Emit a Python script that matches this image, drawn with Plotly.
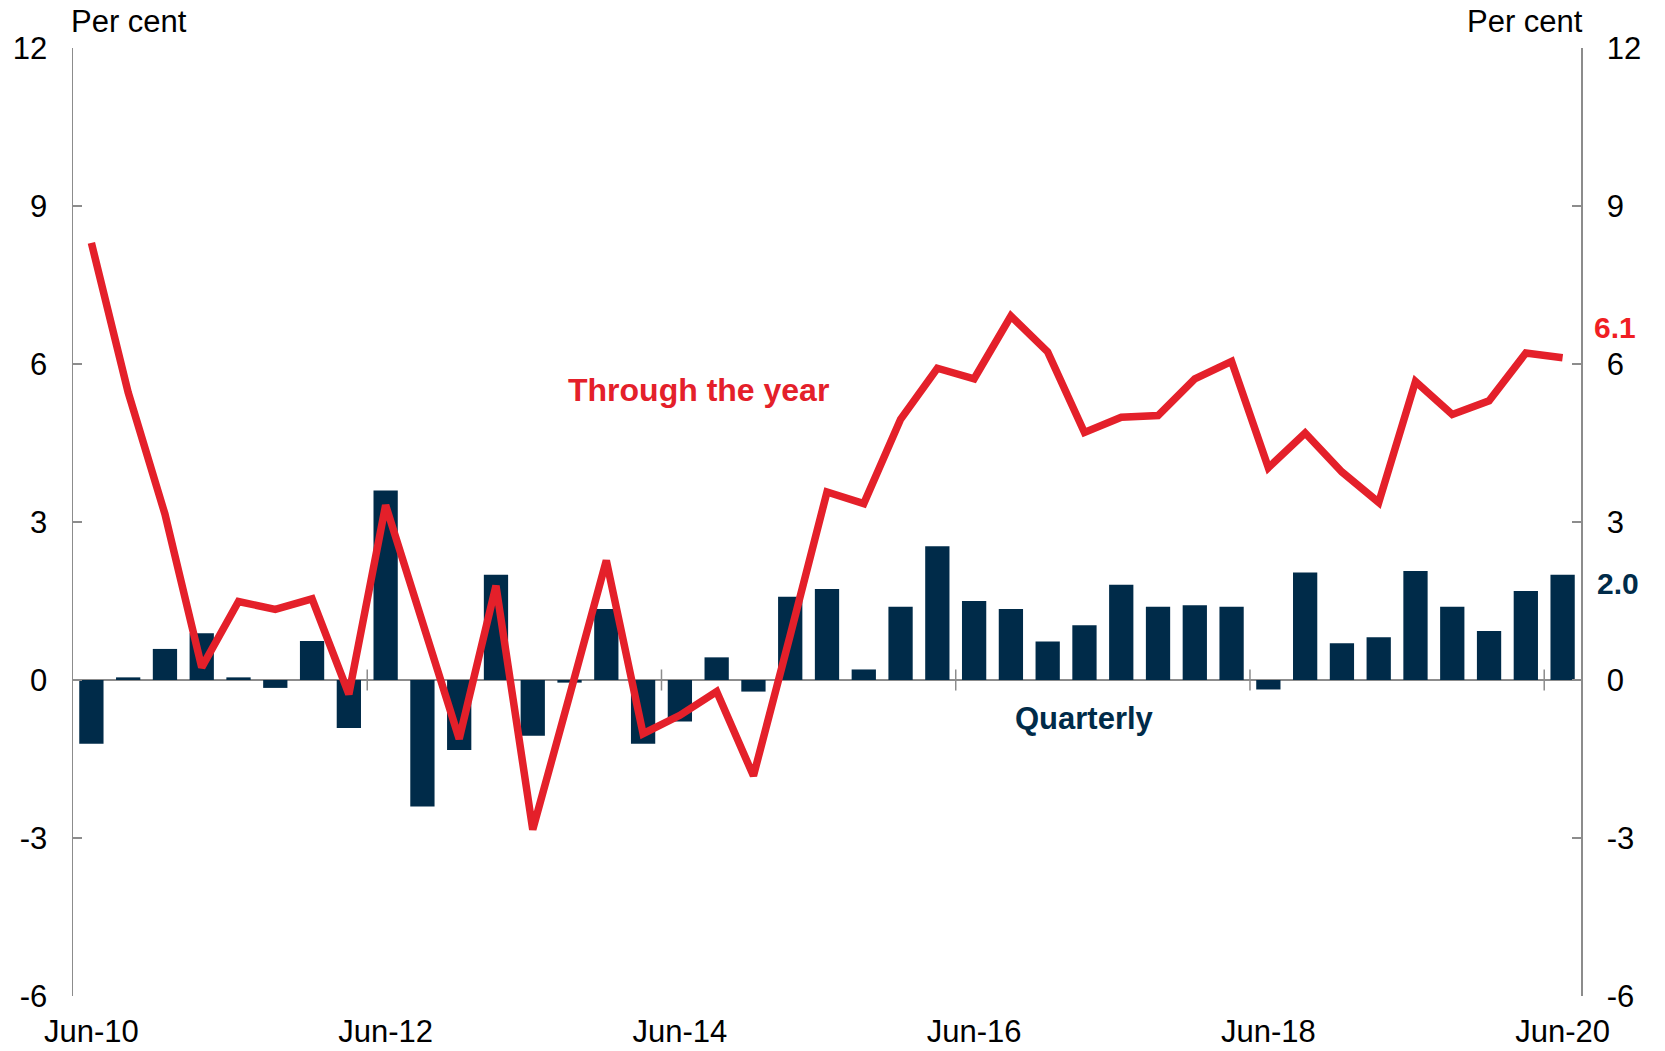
import plotly.graph_objects as go

# ---- Data -------------------------------------------------------------
months = ["Mar", "Jun", "Sep", "Dec"]
quarters = []
for yr in range(10, 21):
    for m in months:
        quarters.append(f"{m}-{yr:02d}")
quarters = quarters[quarters.index("Jun-10"): quarters.index("Jun-20") + 1]

# Quarterly growth (bars), per cent
quarterly = [-1.21, 0.05, 0.59, 0.89, 0.05, -0.15, 0.74, -0.91, 3.60, -2.40,
             -1.33, 2.00, -1.06, -0.05, 1.35, -1.21, -0.79, 0.43, -0.22, 1.58,
             1.73, 0.20, 1.39, 2.54, 1.50, 1.35, 0.73, 1.04, 1.81, 1.39,
             1.42, 1.39, -0.18, 2.04, 0.70, 0.81, 2.07, 1.39, 0.93, 1.69,
             2.00]

# Through-the-year growth (line), per cent
through_year = [8.30, 5.46, 3.15, 0.24, 1.49, 1.34, 1.54, -0.27, 3.32, 1.10,
                -1.12, 1.79, -2.84, -0.30, 2.27, -1.02, -0.67, -0.22, -1.82, 0.85,
                3.57, 3.35, 4.95, 5.92, 5.72, 6.91, 6.23, 4.70, 4.99, 5.02,
                5.72, 6.05, 4.03, 4.69, 3.95, 3.37, 5.67, 5.04, 5.30, 6.21,
                6.12]

tick_labels = ["Jun-10", "Jun-12", "Jun-14", "Jun-16", "Jun-18", "Jun-20"]
y_ticks = [-6, -3, 0, 3, 6, 9, 12]
y_tick_text = [str(v) for v in y_ticks]

# ---- Styling ----------------------------------------------------------
NAVY = "#002B49"
RED = "#E4202A"
AXIS_GREY = "#8C8C8C"
FONT = "Liberation Sans, Arial, sans-serif"

x = list(range(len(quarters)))
tick_idx = [quarters.index(t) for t in tick_labels]

fig = go.Figure()
fig.add_trace(go.Bar(x=x, y=quarterly, marker=dict(color=NAVY, line=dict(width=0)),
                     width=0.66, name="Quarterly", yaxis="y"))
fig.add_trace(go.Scatter(x=x, y=through_year, mode="lines",
                         line=dict(color=RED, width=7.5), name="Through the year",
                         yaxis="y2"))

# cross ticks on the zero line, between quarters before each labelled year
shapes = []
for i in tick_idx:
    if i > 0:
        shapes.append(dict(type="line", xref="x", yref="y", x0=i - 0.5, x1=i - 0.5,
                           y0=-0.2, y1=0.2, line=dict(color=AXIS_GREY, width=1.5)))

annotations = [
    dict(text="Per cent", xref="paper", yref="paper", x=0, y=1, xanchor="left",
         yanchor="middle", yshift=27, xshift=-4, showarrow=False,
         font=dict(size=31, color="black", family=FONT)),
    dict(text="Per cent", xref="paper", yref="paper", x=1, y=1, xanchor="right",
         yanchor="middle", yshift=27, xshift=4, showarrow=False,
         font=dict(size=31, color="black", family=FONT)),
    dict(text="<b>Through the year</b>", xref="x", yref="y", x=16.5, y=5.5,
         showarrow=False, font=dict(size=32, color=RED, family=FONT)),
    dict(text="<b>Quarterly</b>", xref="x", yref="y", x=27.0, y=-0.74,
         showarrow=False, font=dict(size=31, color=NAVY, family=FONT)),
    dict(text=f"<b>{through_year[-1]:.1f}</b>", xref="x", yref="y",
         x=x[-1], y=through_year[-1], xshift=52, yshift=30, showarrow=False,
         font=dict(size=30, color="#F01E23", family=FONT)),
    dict(text=f"<b>{quarterly[-1]:.1f}</b>", xref="x", yref="y",
         x=x[-1], y=quarterly[-1], xshift=55, yshift=-9, showarrow=False,
         font=dict(size=30, color=NAVY, family=FONT)),
]

yaxis_common = dict(range=[-6, 12], tickvals=y_ticks, ticktext=y_tick_text,
                    ticks="inside", ticklen=9,
                    tickwidth=1.5, tickcolor=AXIS_GREY, showline=True,
                    linecolor=AXIS_GREY, linewidth=1.5, showgrid=False,
                    tickfont=dict(size=31, color="black", family=FONT),
                    ticklabelstandoff=18, fixedrange=True, automargin=False)

fig.update_layout(
    width=1665, height=1051,
    margin=dict(l=73, r=84, t=48, b=55, autoexpand=False),
    paper_bgcolor="white", plot_bgcolor="white",
    showlegend=False,
    font=dict(family=FONT, color="black"),
    xaxis=dict(range=[-0.5, 40.5], tickvals=[x[i] for i in tick_idx],
               ticktext=tick_labels, ticks="", showline=False, showgrid=False,
               zeroline=False, tickfont=dict(size=31, color="black", family=FONT),
               ticklabelstandoff=14, automargin=False, fixedrange=True),
    yaxis=dict(**yaxis_common, side="left", zeroline=True,
               zerolinecolor=AXIS_GREY, zerolinewidth=2),
    yaxis2=dict(**yaxis_common, side="right", overlaying="y", zeroline=False),
    shapes=shapes,
    annotations=annotations,
    hovermode=False,
)

# remove the default page margin so the figure fills the window exactly
fig.write_html("out.html",
               config={"displayModeBar": False, "staticPlot": True},
               post_script="document.body.style.margin='0';"
                           "document.body.style.overflow='hidden';")
